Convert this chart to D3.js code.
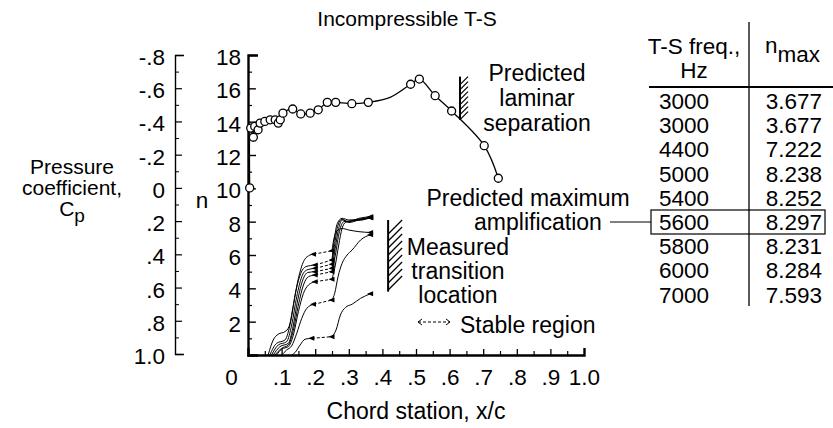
<!DOCTYPE html>
<html><head><meta charset="utf-8">
<script src="https://cdn.jsdelivr.net/npm/d3@7"></script>
<style>
body{margin:0;background:#fff;}
svg{display:block;font-family:"Liberation Sans",Arial,Helvetica,sans-serif;}
</style></head><body>
<svg id="c" width="833" height="428"></svg>
<script>
// ---------------- data ----------------
// Pressure coefficient distribution (open circles), x/c and Cp
const cpX = [0.005,0.008,0.016,0.02,0.03,0.036,0.05,0.066,0.081,0.09,0.096,0.104,0.133,0.157,0.185,0.209,0.236,0.261,0.309,0.358,0.423,0.484,0.51,0.557,0.606,0.703,0.745];
const cpVal = [0,-0.36,-0.305,-0.37,-0.35,-0.39,-0.40,-0.41,-0.41,-0.39,-0.41,-0.45,-0.475,-0.445,-0.45,-0.47,-0.515,-0.515,-0.507,-0.515,-0.545,-0.624,-0.655,-0.555,-0.463,-0.254,-0.058];
const cpMarked = [1,1,1,1,1,1,1,1,1,1,1,1,1,1,1,1,1,1,1,1,0,1,1,1,1,1,1];

// N-factor curves, one per T-S frequency
const curveFreq = [3000,4400,5000,5400,5600,5800,6000,7000];
const curveX = [
  [0.13,0.14,0.155,0.17,0.19,0.25,0.262,0.275,0.29,0.31,0.335,0.365],
  [0.10,0.115,0.13,0.145,0.16,0.175,0.195,0.25,0.258,0.268,0.28,0.295,0.31,0.335,0.365],
  [0.085,0.1,0.12,0.135,0.15,0.165,0.18,0.2,0.25,0.258,0.27,0.28,0.29,0.31,0.34,0.365],
  [0.08,0.1,0.12,0.135,0.15,0.165,0.18,0.2,0.25,0.26,0.272,0.285,0.31,0.34,0.365],
  [0.075,0.095,0.12,0.133,0.148,0.163,0.178,0.2,0.25,0.258,0.27,0.28,0.3,0.33,0.365],
  [0.07,0.09,0.115,0.13,0.145,0.16,0.175,0.2,0.25,0.257,0.268,0.28,0.3,0.33,0.365],
  [0.065,0.085,0.11,0.127,0.142,0.157,0.172,0.2,0.25,0.256,0.266,0.28,0.3,0.33,0.365],
  [0.06,0.075,0.09,0.11,0.122,0.135,0.15,0.165,0.18,0.195,0.25,0.255,0.265,0.28,0.3,0.33,0.365]
];
const curveN = [
  [0,0.15,0.6,0.95,1.0,1.1,1.5,2.4,2.85,3.05,3.4,3.68],
  [0,0.3,0.55,1.3,2.2,2.8,3.04,3.3,3.7,4.7,5.5,6.0,6.3,6.9,7.22],
  [0,0.35,0.5,1.2,2.6,3.7,4.2,4.4,4.55,5.2,6.6,7.6,7.95,8.05,8.1,8.24],
  [0,0.4,0.6,1.5,3.0,4.2,4.7,4.8,5.0,6.0,7.4,8.0,8.05,8.15,8.25],
  [0,0.5,0.7,1.6,3.3,4.5,4.95,5.0,5.2,6.2,7.6,8.1,8.0,8.2,8.3],
  [0,0.6,0.8,1.8,3.5,4.7,5.1,5.2,5.45,6.5,7.8,8.15,7.95,8.1,8.23],
  [0,0.7,0.9,2.0,3.8,4.9,5.3,5.4,5.7,6.8,7.9,8.2,8.1,8.15,8.28],
  [0,0.9,1.25,1.4,1.7,3.0,4.6,5.6,5.95,6.05,6.25,6.9,7.45,7.59,7.5,7.4,7.35]
];
const plateauStart = [4,6,7,7,7,7,7,9];
const plateauEnd   = [5,7,8,8,8,8,8,10];

// Table
const tableFreq = ["3000","3000","4400","5000","5400","5600","5800","6000","7000"];
const tableNmax = ["3.677","3.677","7.222","8.238","8.252","8.297","8.231","8.284","7.593"];
const highlightRow = 5;

// Axis ticks
const xTicks = [0,0.1,0.2,0.3,0.4,0.5,0.6,0.7,0.8,0.9,1.0];
const xTickLabels = ["0",".1",".2",".3",".4",".5",".6",".7",".8",".9","1.0"];
const nTicks = [0,2,4,6,8,10,12,14,16,18];
const cpTicks = [-0.8,-0.6,-0.4,-0.2,0,0.2,0.4,0.6,0.8,1.0];
const cpTickLabels = ["-.8","-.6","-.4","-.2","0",".2",".4",".6",".8","1.0"];

// annotation locations
const sepX = 0.631, sepCp = [-0.67,-0.41];
const transX = 0.417, transN = [3.8,8.1];

// ---------------- drawing ----------------
const svg = d3.select("#c");
const FS = 22.5;
const FA = 23;
const x = d3.scaleLinear([0,1],[248,584]);
const yN = d3.scaleLinear([0,18],[355,55]);
const yCp = d3.scaleLinear([-0.8,1.0],[55,354]);
const cpAxisX = 175;

function styleAxis(g){ g.selectAll("text").attr("font-size",FS).attr("fill","#000").attr("font-family","Liberation Sans, Arial, sans-serif"); g.selectAll("line,path").attr("stroke","#000"); }

// Cp axis
const cpMinor = d3.range(-0.7,1.0,0.2);
svg.append("g").attr("transform",`translate(${cpAxisX},0)`)
  .call(d3.axisRight(yCp).tickValues(cpMinor).tickSize(4).tickSizeOuter(9).tickFormat(""))
  .call(styleAxis).call(g=>g.select(".domain").attr("stroke-width",1.4)).selectAll(".tick line").attr("stroke-width",1);
svg.append("g").attr("transform",`translate(${cpAxisX},0)`)
  .call(d3.axisRight(yCp).tickValues(cpTicks).tickSize(7).tickFormat(""))
  .call(styleAxis).call(g=>g.select(".domain").remove()).selectAll(".tick line").attr("stroke-width",1.2);
svg.append("g").attr("transform",`translate(${cpAxisX},0)`)
  .call(d3.axisLeft(yCp).tickValues(cpTicks).tickSize(0).tickPadding(10).tickFormat((d,i)=>cpTickLabels[i]))
  .call(styleAxis).call(g=>g.select(".domain").remove()).selectAll("text").attr("dy","0.42em");

// n axis
const nMinor = d3.range(1,18,2);
svg.append("g").attr("transform",`translate(${x(0)},0)`)
  .call(d3.axisRight(yN).tickValues(nMinor).tickSize(4).tickSizeOuter(10).tickFormat(""))
  .call(styleAxis).call(g=>g.select(".domain").attr("stroke-width",2.4)).selectAll(".tick line").attr("stroke-width",1.2);
svg.append("g").attr("transform",`translate(${x(0)},0)`)
  .call(d3.axisRight(yN).tickValues(nTicks.slice(1)).tickSize(8).tickFormat(""))
  .call(styleAxis).call(g=>g.select(".domain").remove()).selectAll(".tick line").attr("stroke-width",1.4);
svg.append("g").attr("transform",`translate(${x(0)},0)`)
  .call(d3.axisLeft(yN).tickValues(nTicks.slice(1)).tickSize(0).tickPadding(7).tickFormat(d=>String(d)))
  .call(styleAxis).call(g=>g.select(".domain").remove()).selectAll("text").attr("dy","0.42em");

// x axis
const xMinor = d3.range(0.05,1.0,0.1);
svg.append("g").attr("transform",`translate(0,${yN(0)})`)
  .call(d3.axisTop(x).tickValues(xMinor).tickSize(4).tickSizeOuter(7).tickFormat(""))
  .call(styleAxis).call(g=>g.select(".domain").attr("stroke-width",2.4)).selectAll(".tick line").attr("stroke-width",1.2);
svg.append("g").attr("transform",`translate(0,${yN(0)})`)
  .call(d3.axisTop(x).tickValues(xTicks.slice(1,-1)).tickSize(6).tickFormat(""))
  .call(styleAxis).call(g=>g.select(".domain").remove()).selectAll(".tick line").attr("stroke-width",1.3);
const xl = svg.append("g").attr("transform",`translate(0,${yN(0)})`)
  .call(d3.axisBottom(x).tickValues(xTicks).tickSize(0).tickPadding(14).tickFormat((d,i)=>xTickLabels[i]))
  .call(styleAxis).call(g=>g.select(".domain").remove());
xl.selectAll(".tick").filter(d=>d===0).select("text").attr("dx",-17);

// axis titles
function txt(s,xx,yy,anchor="middle",size=FA){ return svg.append("text").attr("x",xx).attr("y",yy).attr("text-anchor",anchor).attr("font-size",size).attr("fill","#000").text(s); }
txt("Incompressible T-S",407,26,"middle",21);
txt("Chord station, x/c",416,419);
txt("n",202,208,"middle",FS);
const FC = 21;
txt("Pressure",72,174,"middle",FC);
txt("coefficient,",72,195,"middle",FC);
const cpT = svg.append("text").attr("x",72).attr("y",216).attr("text-anchor","middle").attr("font-size",FC);
cpT.append("tspan").text("C");
cpT.append("tspan").attr("dy",6).attr("font-size",FC-2).text("p");

// Cp curve
const cpPts = cpX.map((v,i)=>[x(v),yCp(cpVal[i])]);
svg.append("path").attr("d",d3.line().curve(d3.curveCatmullRom.alpha(0.5))(cpPts))
  .attr("fill","none").attr("stroke","#000").attr("stroke-width",1.3);
svg.append("g").selectAll("circle").data(cpPts.filter((p,i)=>cpMarked[i]))
  .join("circle").attr("cx",d=>d[0]).attr("cy",d=>d[1]).attr("r",4)
  .attr("fill","#fff").attr("stroke","#000").attr("stroke-width",1.3);

// n curves
const lineM = d3.line().curve(d3.curveMonotoneX);
const gC = svg.append("g");
curveX.forEach((xs,k)=>{
  const pts = xs.map((v,i)=>[x(v),yN(curveN[k][i])]);
  const a = plateauStart[k], b = plateauEnd[k];
  gC.append("path").attr("d",lineM(pts.slice(0,a+1))).attr("fill","none").attr("stroke","#000").attr("stroke-width",1);
  gC.append("path").attr("d",d3.line()(pts.slice(a,b+1))).attr("fill","none").attr("stroke","#000").attr("stroke-width",1).attr("stroke-dasharray","3,2");
  gC.append("path").attr("d",lineM(pts.slice(b))).attr("fill","none").attr("stroke","#000").attr("stroke-width",1);
  [a,b,pts.length-1].forEach(i=>{
    gC.append("path").attr("d","M-3.5,0L2.5,-2.5L2.5,2.5Z").attr("transform",`translate(${pts[i][0]},${pts[i][1]})`).attr("fill","#000");
  });
});

// hatched marks
function hatch(x0,ya,yb,w,step){
  const y0 = Math.min(ya,yb), y1 = Math.max(ya,yb);
  const g = svg.append("g").attr("stroke","#000");
  g.append("line").attr("x1",x0).attr("x2",x0).attr("y1",y0).attr("y2",y1).attr("stroke-width",2);
  for(let yy=y0+w; yy<=y1+0.1; yy+=step){
    g.append("line").attr("x1",x0).attr("y1",yy).attr("x2",x0+w).attr("y2",yy-w).attr("stroke-width",1.2);
  }
}
hatch(x(sepX), yCp(sepCp[0]), yCp(sepCp[1]), 8, 5);
hatch(x(transX), yN(transN[0]), yN(transN[1]), 14, 7);

// annotations
txt("Predicted",537,81); txt("laminar",537,106); txt("separation",537,131);
txt("Predicted maximum",528,206); txt("amplification",538,230);
txt("Measured",458,255); txt("transition",458,279); txt("location",458,303);
txt("Stable region",460,333,"start");
// stable region arrow
const ay = 322;
svg.append("line").attr("x1",418).attr("x2",450).attr("y1",ay).attr("y2",ay).attr("stroke","#000").attr("stroke-width",1).attr("stroke-dasharray","3,2");
svg.append("path").attr("d",`M422,${ay-3}L418,${ay}L422,${ay+3}M446,${ay-3}L450,${ay}L446,${ay+3}`).attr("fill","none").attr("stroke","#000").attr("stroke-width",1);

// table
const rowY0 = 101, rowH = 24.2;
svg.append("line").attr("x1",749).attr("x2",749).attr("y1",22).attr("y2",306).attr("stroke","#000").attr("stroke-width",1.3);
svg.append("line").attr("x1",649).attr("x2",833).attr("y1",87).attr("y2",87).attr("stroke","#000").attr("stroke-width",2);
txt("T-S freq.,",694,54,"middle",FS); txt("Hz",694,78,"middle",FS);
const nm = svg.append("text").attr("x",765).attr("y",53).attr("font-size",FS);
nm.append("tspan").text("n"); nm.append("tspan").attr("dy",9).text("max");
tableFreq.forEach((f,i)=>{
  txt(f,684,rowY0+i*rowH+8,"middle",FS);
  txt(tableNmax[i],822,rowY0+i*rowH+8,"end",FS);
});
svg.append("rect").attr("x",651).attr("y",rowY0+highlightRow*rowH-12).attr("width",174).attr("height",24).attr("fill","none").attr("stroke","#000").attr("stroke-width",1.2);
svg.append("line").attr("x1",610).attr("x2",651).attr("y1",rowY0+highlightRow*rowH).attr("y2",rowY0+highlightRow*rowH).attr("stroke","#000").attr("stroke-width",1.2);
</script>
</body></html>
